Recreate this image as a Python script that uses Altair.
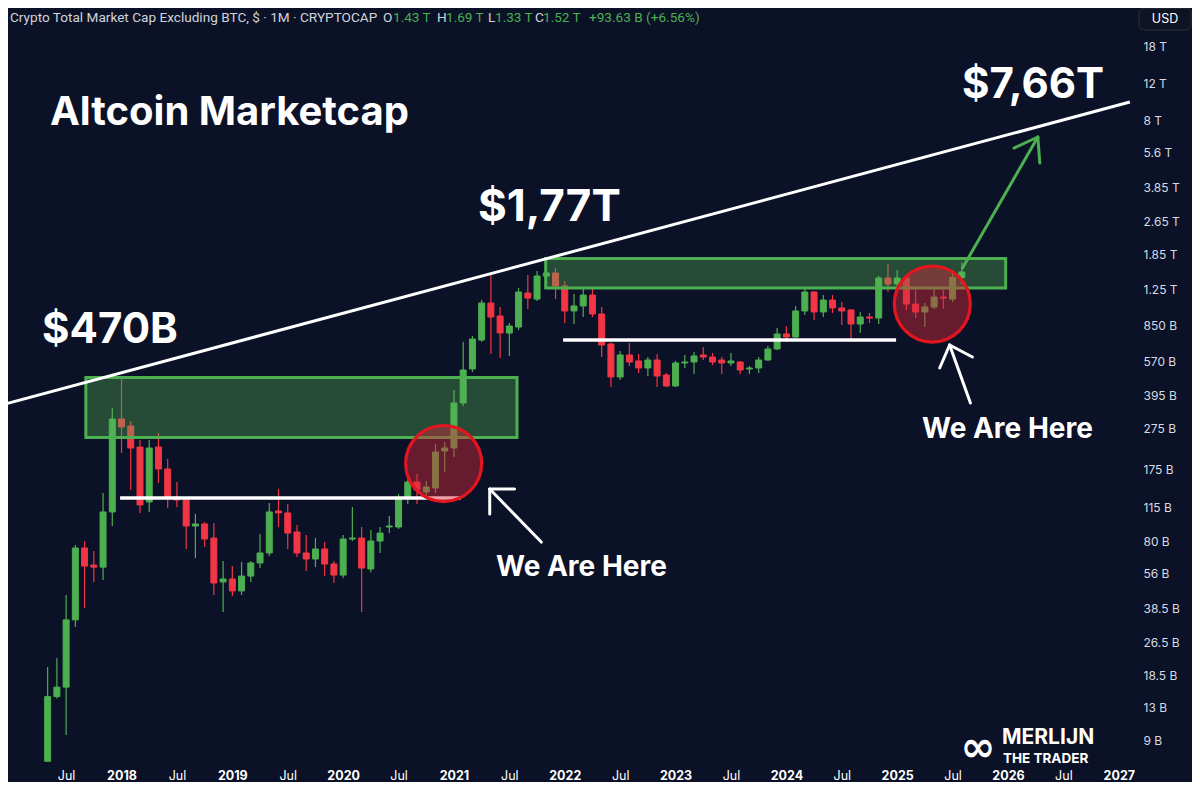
import altair as alt
import pandas as pd

# ---------------- data (values in billions USD) ----------------
all_months = [f"{y}-{m:02d}" for y in range(2017, 2026) for m in range(1, 13)]
months = all_months[all_months.index("2017-05"): all_months.index("2025-08") + 1]

opens = [7.2, 14.6, 16.2, 33.8, 74.2, 61.6, 60.2, 110.1,
         304.4, 282, 224, 122.8, 224, 176.1, 129.7, 125.5, 94.4, 96.5, 82.8, 51.2,
         52.9, 46.4, 54.6, 63.0, 70.3, 111.3, 108.9, 88.4, 70.3, 65.8, 73.4, 62.3,
         55.2, 81.9, 82.8, 59.0, 80.1, 93.4, 93.4, 129.7, 152.8, 137.0, 143.1, 214.4,
         221.6, 362.6, 525.9, 722.2, 1082, 938.8, 779.6, 832.5, 1207.7, 1130, 1454, 1503,
         1304, 992, 1047.8, 1181, 960, 691.3, 481.9, 612.9, 574, 531.7, 580.3, 492.5,
         436.7, 561.6, 567.8, 612.9, 599.7, 580.3, 561.6, 567.8, 525.9, 531.7, 580.3, 654.5,
         771.1, 746.3, 992, 1221, 981.3, 1118, 1025.2, 1003, 860.2, 928.6, 918.5, 1422.8,
         1332.4, 1422.8, 1070, 981.3, 1036.5, 1155.3, 1130, 1430]
highs = [20.2, 22.3, 44.4, 76.7, 80.1, 71.8, 135.5, 343.3,
         476.6, 297.8, 241.9, 241.9, 261.2, 196.4, 152.8, 129.7, 107.7, 98.6, 97.5, 64.4,
         60.9, 63.7, 64.4, 86.5, 121.4, 141.5, 120.1, 95.4, 85.6, 82.8, 79.2, 64.4,
         85.6, 116.3, 93.4, 90.4, 93.4, 105.3, 134.0, 161.4, 166.7, 154.5, 231.6, 236.7,
         418, 706.6, 754.5, 1118, 1503, 1036.5, 869.7, 1275.6, 1470, 1536, 1640, 1587,
         1377, 1194.6, 1261.7, 1261.7, 1036.5, 700, 640.4, 698.9, 619.7, 599.7, 619.7, 503.4,
         574, 612.9, 633.4, 669, 626.5, 599.7, 626.5, 574, 543.5, 599.7, 676.3, 823.4,
         841.6, 1047.8, 1261.7, 1235, 1181, 1181, 1093.8, 1015, 981.3, 970.6, 1454.2, 1657.9,
         1553, 1435, 1248, 1081.9, 1261.7, 1248, 1553, 1690]
lows = [7.2, 14.3, 9.6, 31.3, 38.5, 51.2, 52.3, 94.4,
        209.8, 140, 108.9, 110.1, 151.2, 115.0, 116.3, 73.4, 66.5, 75.0, 44.4, 36.9,
        43.9, 44.4, 51.2, 59.6, 68.0, 93.4, 73.4, 67.3, 57.7, 60.2, 54.6, 50.6,
        53.5, 80.1, 36.9, 57.0, 70.3, 87.4, 91.4, 120.1, 120.1, 129.7, 135.5, 170.4,
        200.8, 350.9, 509, 706.6, 619.7, 593.1, 606.2, 805.6, 1014, 1105.8, 1376.8, 1130,
        869.6, 860.2, 928.6, 928.6, 599.7, 432.0, 466.3, 543.5, 503.4, 487.1, 432, 432,
        432, 531.7, 497.9, 580.3, 549.5, 497.9, 543.5, 497.9, 497.9, 503.4, 574, 647.4,
        706.6, 738.2, 949.5, 898.6, 928.6, 970.6, 850.7, 730.1, 779.6, 869.6, 860.2, 1221,
        1289.7, 1003, 918.5, 832.5, 1014, 1014, 1093.8, 1330]
closes = [14.6, 16.2, 33.8, 74.2, 60.9, 60.2, 110.1, 304.4,
          278.9, 221.6, 118.8, 221.6, 176.1, 129.7, 125.5, 94.4, 96.5, 81.9, 50.6, 52.9,
          46.4, 54.6, 63.0, 70.3, 110.1, 108.9, 87.4, 70.3, 65.8, 73.4, 62.3, 55.2,
          81.9, 82.8, 59.6, 80.1, 87.4, 94.4, 128.3, 152.8, 140.0, 144.7, 212.1, 221.6,
          362.6, 520.2, 730.1, 1082, 928.6, 779.6, 841.6, 1221, 1142.7, 1454, 1503, 1304,
          992, 1047.8, 1181, 960, 683.7, 481.9, 612.9, 567.8, 531.7, 580.3, 487.1, 436.7,
          561.6, 567.8, 606.2, 599.7, 567.8, 561.6, 574, 520.2, 531.7, 580.3, 654.5, 771.1,
          746.3, 992, 1221, 981.3, 1118, 1025.2, 992, 860.2, 928.6, 918.5, 1422.8, 1332.4,
          1422.8, 1070, 981.3, 1036.5, 1155.3, 1142.7, 1430, 1520]

# annotation values (fractional year, billions)
zone_start = [2017.678, 2021.828]
zone_end = [2021.569, 2025.979]
zone_low = [248.6, 1275.6]
zone_high = [479.2, 1760.6]

support_start = [2017.987, 2021.985]
support_end = [2021.063, 2024.990]
support_level = [128.3, 722.2]

trend_t = [2016.95, 2027.10]
trend_v = [358.7, 9755]

circle_t = [2020.907, 2025.317]
circle_v = [187.0, 1070]

arrow_t0 = [2025.5895, 2026.2693, 2026.2693, 2021.7880, 2021.3229, 2021.3229, 2025.6610, 2025.4732, 2025.4732]
arrow_v0 = [1587, 6652, 6652, 79.2, 141.5, 141.5, 362.6, 683.7, 683.7]
arrow_t1 = [2026.2693, 2026.0546, 2026.2871, 2021.3229, 2021.5465, 2021.3229, 2025.4732, 2025.3837, 2025.6789]
arrow_v1 = [6652, 5897, 5004, 141.5, 141.5, 107.7, 683.7, 531.7, 599.7]
arrow_col = ["#4caf50"] * 3 + ["#ffffff"] * 6

x_ticks = [2017.5] + [y + h for y in range(2018, 2027) for h in (0, 0.5)] + [2027]
y_ticks = [9, 13, 18.5, 26.5, 38.5, 56, 80, 115, 175, 275, 395, 570, 850,
           1250, 1850, 2650, 3850, 5600, 8000, 12000, 18000]

# ---------------- styling ----------------
BG = "#0b1126"
UP = "#4caf50"
DOWN = "#f23645"
W, H = 1127, 754
X_MIN, X_MAX = 2017.0206, 2027.1011
Y_MIN, Y_MAX = 7.143, 27280

df = pd.DataFrame(dict(month=months, open=opens, high=highs, low=lows, close=closes))
df["t"] = df["month"].str[:4].astype(int) + (df["month"].str[5:].astype(int) - 1) / 12

x_scale = alt.Scale(domain=[X_MIN, X_MAX], nice=False, zero=False)
y_scale = alt.Scale(type="log", domain=[Y_MIN, Y_MAX], nice=False)

x_axis = alt.Axis(values=x_ticks, title=None, domain=False, ticks=False, grid=False,
                  labelExpr="datum.value % 1 == 0 ? toString(datum.value) : 'Jul'",
                  labelColor="#ffffff", labelFontSize=12.5, labelFont="Inter",
                  labelPadding=7, labelOverlap=False,
                  labelFontWeight={"condition": {"test": "datum.value % 1 == 0", "value": "bold"},
                                   "value": "normal"})
y_axis = alt.Axis(orient="right", values=y_ticks, title=None, domain=False, ticks=False, grid=False,
                  labelExpr="datum.value >= 1000 ? format(datum.value / 1000, '~g') + ' T' : format(datum.value, '~g') + ' B'",
                  labelColor="#d8dbe3", labelFontSize=12, labelFont="Inter",
                  labelPadding=8, labelOverlap=False, labelBaseline="middle")


def X(f):
    return alt.X(f, type="quantitative", scale=x_scale, axis=x_axis)


def Y(f):
    return alt.Y(f, type="quantitative", scale=y_scale, axis=y_axis)


dir_scale = alt.Scale(domain=["up", "down"], range=[UP, DOWN])
base = alt.Chart(df).transform_calculate(dir="datum.close >= datum.open ? 'up' : 'down'")

wicks = base.mark_rule(strokeWidth=1.2, clip=True).encode(
    x=X("t"), y=Y("low"), y2="high",
    color=alt.Color("dir:N", scale=dir_scale, legend=None))
bodies = base.mark_bar(size=6, strokeWidth=1, clip=True).encode(
    x=X("t"), y=Y("open"), y2="close",
    color=alt.Color("dir:N", scale=dir_scale, legend=None),
    stroke=alt.Stroke("dir:N", scale=dir_scale, legend=None))

zone_df = pd.DataFrame(dict(t0=zone_start, t1=zone_end, lo=zone_low, hi=zone_high))
zones = alt.Chart(zone_df).mark_rect(fill="#55b75a", fillOpacity=0.36, stroke=UP,
                                     strokeWidth=3, clip=True).encode(
    x=X("t0"), x2="t1", y=Y("lo"), y2="hi")

sup_df = pd.DataFrame(dict(t0=support_start, t1=support_end, v=support_level))
supports = alt.Chart(sup_df).mark_rule(color="#ffffff", strokeWidth=3.5, clip=True).encode(
    x=X("t0"), x2="t1", y=Y("v"))

trend_df = pd.DataFrame(dict(t=trend_t, v=trend_v))
trend = alt.Chart(trend_df).mark_line(color="#ffffff", strokeWidth=3, clip=True).encode(
    x=X("t"), y=Y("v"))

circ_df = pd.DataFrame(dict(t=circle_t, v=circle_v))
circles = alt.Chart(circ_df).mark_circle(size=5780, fill="#d42a3a", fillOpacity=0.45, opacity=1,
                                         stroke="#e3151f", strokeWidth=3.2).encode(
    x=X("t"), y=Y("v"))

arr_df = pd.DataFrame(dict(t0=arrow_t0, v0=arrow_v0, t1=arrow_t1, v1=arrow_v1, c=arrow_col))
arrows = alt.Chart(arr_df).mark_rule(strokeWidth=3, strokeCap="round", clip=True).encode(
    x=X("t0"), x2="t1", y=Y("v0"), y2="v1", color=alt.Color("c:N", scale=None))

one = alt.Data(values=[{}])


def txt(s, x, y, size, color="#ffffff", weight="bold", font="Inter", align="left"):
    kw = dict(align=align, baseline="middle", fontSize=size, fontWeight=weight, font=font, color=color)
    return alt.Chart(one).mark_text(**kw).encode(x=alt.value(x), y=alt.value(y), text=alt.value(s))


LG = "#d1d4dc"
TS = 13.6
texts = [
    txt("Crypto Total Market Cap Excluding BTC, $ · 1M · CRYPTOCAP", 2, 10, TS, LG, "normal", "Roboto"),
    txt("O", 375, 10, TS, LG, "normal", "Roboto"),
    txt("1.43 T", 385, 10, TS, UP, "normal", "Roboto"),
    txt("H", 429, 10, TS, LG, "normal", "Roboto"),
    txt("1.69 T", 438, 10, TS, UP, "normal", "Roboto"),
    txt("L", 480, 10, TS, LG, "normal", "Roboto"),
    txt("1.33 T", 487, 10, TS, UP, "normal", "Roboto"),
    txt("C", 527, 10, TS, LG, "normal", "Roboto"),
    txt("1.52 T", 535, 10, TS, UP, "normal", "Roboto"),
    txt("+93.63 B (+6.56%)", 581, 10, TS, UP, "normal", "Roboto"),
    txt("Altcoin Marketcap", 42, 105, 40),
    txt("$470B", 34, 322, 42),
    txt("$1,77T", 470, 200, 44),
    txt("$7,66T", 954, 77, 42),
    txt("We Are Here", 488, 560, 28),
    txt("We Are Here", 914, 422, 28),
    txt("∞", 970, 740, 42, "#ffffff", "bold", "DejaVu Sans", "center"),
    txt("MERLIJN", 994, 730, 21, "#ffffff", "bold", "Inter", "left"),
    txt("THE TRADER", 995, 751, 13.5, "#ffffff", "bold", "Inter", "left"),
]

usd_box = alt.Chart(one).mark_rect(fill="#0f1424", stroke="#2a2e39", strokeWidth=1,
                                   cornerRadius=5).encode(
    x=alt.value(1131), x2=alt.value(1183), y=alt.value(0), y2=alt.value(22))
usd_txt = txt("USD", 1157, 11, 12.5, "#ffffff", "normal", "Inter", "center")

chart = alt.layer(wicks, bodies, zones, supports, trend, circles, arrows, *texts, usd_box, usd_txt).properties(
    width=W, height=H,
    autosize=alt.AutoSizeParams(type="none"),
    padding={"left": 0, "top": 0, "right": 57, "bottom": 20},
).configure(background=BG).configure_view(stroke=None)

chart.save("out.html", embed_options={"renderer": "svg", "actions": False})
